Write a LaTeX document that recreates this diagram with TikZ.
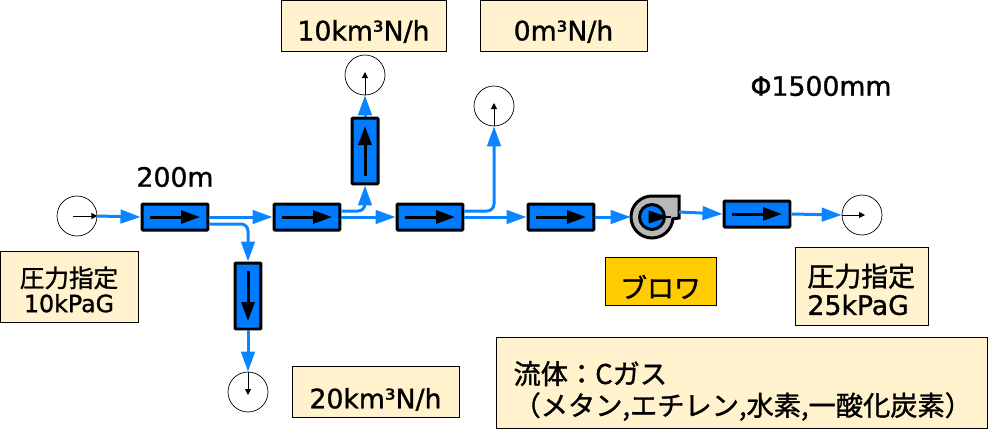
\documentclass[tikz,border=0pt]{standalone}
\usepackage{fontspec}
\setmainfont[FakeBold=1.2]{DejaVu Sans}
\newfontfamily\cjk[FakeBold=1.2]{Noto Sans CJK JP}
\usetikzlibrary{
    positioning,   % Relative positioning
    arrows.meta,   % Modern arrow tips
    calc           % Coordinate calculations
}
\definecolor{pipeblue}{HTML}{007BFF}
\definecolor{flowblue}{HTML}{0A84FF}
\definecolor{notefill}{HTML}{FFF2CC}
\definecolor{blowerfill}{HTML}{FFCC00}
\newcommand{\fifteen}{\fontsize{15.2}{15.2}\selectfont}
\newcommand{\jpbig}{\cjk\fontsize{15.3}{15.3}\selectfont}
\newcommand{\lowerby}[2]{\raisebox{-#1}[\height][\depth]{#2}}
\tikzset{
    pipe/.style={draw,line width=0.06cm,fill=pipeblue,rounded corners=0.02cm,minimum width=1.32cm,minimum height=0.52cm,inner sep=0},
    pipev/.style={pipe,minimum width=0.52cm,minimum height=1.32cm},
    bound/.style={draw,circle,line width=0.4pt,minimum size=0.8cm,inner sep=0},
    note/.style={draw,line width=0.5pt,fill=notefill,inner sep=0,align=center,font=\fifteen},
    flow/.style={draw=flowblue,line width=0.06cm,-{Triangle[length=0.4cm,width=0.27cm,fill=flowblue]}},
    flowbend/.style={flow,rounded corners=0.14cm},
    inner/.style={line width=0.06cm,-{Triangle[length=0.38cm,width=0.26cm]}},
    tiny/.style={line width=0.5pt,-{Triangle[length=0.12cm,width=0.12cm]}}
}
\begin{document}
\begin{tikzpicture}[x=0.02cm,y=-0.02cm]
    \useasboundingbox (0,0) rectangle (988,440);
    % notes
    \node[note,minimum width=3.3cm,minimum height=1.02cm] (noteA) at (363.5,25.5) {\lowerby{3.4pt}{10km³N/h}};
    \node[note,minimum width=3.34cm,minimum height=1.02cm] (noteB) at (563.5,25.5) {\lowerby{3.4pt}{0m³N/h}};
    \node[note,minimum width=3.34cm,minimum height=1.02cm] (noteC) at (375.5,391.5) {\lowerby{4.5pt}{20km³N/h}};
    \node[note,minimum width=2.76cm,minimum height=1.42cm] (noteIn) at (69,286.5) {\lowerby{1.7pt}{\parbox{2.4cm}{\centering{\cjk\fontsize{14}{14}\selectfont 圧力指定}\\[-1pt]{\fontsize{13.5}{14}\selectfont 10kPaG}}}};
    \node[note,minimum width=2.66cm,minimum height=1.56cm,align=left] (noteOut) at (861.5,286) {\lowerby{2pt}{\parbox{2.16cm}{{\jpbig 圧力指定}\\[1pt]{\fifteen 25kPaG}}}};
    \node[note,fill=blowerfill,minimum width=2.22cm,minimum height=0.96cm,font=\jpbig] (noteBlower) at (660.5,281) {\lowerby{3.4pt}{ブロワ}};
    \node[note,minimum width=9.82cm,minimum height=1.82cm,font=\jpbig] (noteGas) at (741.5,382.5) {\lowerby{4.8pt}{\parbox{9.12cm}{\fontsize{15.5}{18}\selectfont 流体：Cガス\\（メタン,エチレン,水素,一酸化炭素）}}};
    \node[font=\fifteen] (diam) at (821,86) {Φ1500mm};
    \node[font=\fifteen] (len) at (175,177) {200m};
    % boundaries
    \node[bound] (inlet) at (77,216) {};
    \node[bound] (outC) at (248,392) {};
    \node[bound] (outA) at (365,75) {};
    \node[bound] (outB) at (494,106) {};
    \node[bound] (outlet) at (862,215) {};
    \draw[tiny] ($(inlet.center)+(-4,0)$) -- (inlet.east);
    \draw[tiny] (outC.north) -- ($(outC.center)+(0,3)$);
    \draw[tiny] (outA.south) -- ($(outA.center)+(0,-3)$);
    \draw[tiny] (outB.south) -- ($(outB.center)+(0,-3)$);
    \draw[tiny] (outlet.west) -- ($(outlet.center)+(3,0)$);
    % pipes
    \node[pipe] (p1) at (175,217) {};
    \node[pipev] (p2) at (248,296) {};
    \node[pipe] (p3) at (307,217) {};
    \node[pipev] (p4) at (365,151) {};
    \node[pipe] (p5) at (430,217) {};
    \node[pipe] (p6) at (561,217) {};
    \node[pipe] (p7) at (757,214) {};
    \foreach \n in {p1,p3,p5,p6,p7}
        \draw[inner] ($(\n.center)+(-25,0)$) -- ($(\n.center)+(25,0)$);
    \draw[inner] ($(p2.center)+(0,-25)$) -- ($(p2.center)+(0,25)$);
    \draw[inner] ($(p4.center)+(0,25)$) -- ($(p4.center)+(0,-25)$);
    % blower
    \node[circle,minimum size=0.84cm,inner sep=0] (blower) at (652,217) {};
    \draw[line width=0.06cm,fill=gray!55] (679,196) -- (652,196) arc[start angle=90,end angle=355,radius=0.42cm] -- (679,218) -- cycle;
    \node[draw,circle,line width=0.06cm,fill=pipeblue,minimum size=0.5cm,inner sep=0] (wheel) at (blower.center) {};
    \draw[fill=black] (649,211) -- (667,217) -- (649,223) -- cycle;
    \draw[line width=0.03cm] (660,217) -- (671,217);
    \coordinate (bout) at (679,212);
    % connectors
    \draw[flow] (inlet.east) -- (p1.west);
    \draw[flow] (p1.east) -- (p3.west);
    \draw[flowbend] ($(p1.east)+(0,7)$) -| (p2.north);
    \draw[flow] (p2.south) -- (outC.north);
    \draw[flow] (p3.east) -- (p5.west);
    \draw[flowbend] ($(p3.east)+(0,-6)$) -| (p4.south);
    \draw[flow] (p4.north) -- (outA.south);
    \draw[flow] (p5.east) -- (p6.west);
    \draw[flowbend] ($(p5.east)+(0,-6)$) -| (outB.south);
    \draw[flow] (p6.east) -- (blower.west);
    \draw[flow] (bout) -- (p7.west);
    \draw[flow] (p7.east) -- (outlet.west);
\end{tikzpicture}
\end{document}
